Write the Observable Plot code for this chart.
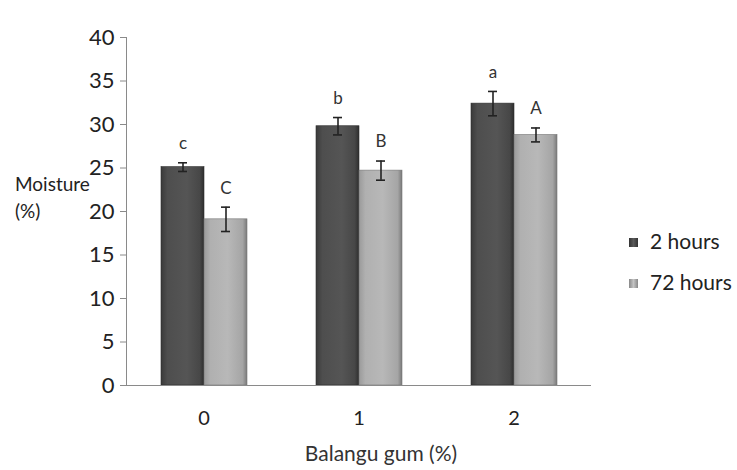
<!DOCTYPE html>
<html>
<head>
<meta charset="utf-8">
<script src="https://cdn.jsdelivr.net/npm/d3@7"></script>
<script src="https://cdn.jsdelivr.net/npm/@observablehq/plot@0.6"></script>
<style>
  html, body { margin: 0; padding: 0; background: #fff; }
  #wrap { position: relative; width: 737px; height: 470px; font-family: Lato, "Open Sans", sans-serif; color: #222; }
  #wrap svg { position: absolute; left: 0; top: 0; }
  .lbl { position: absolute; white-space: nowrap; line-height: 1.15; }
  .sw { display: inline-block; width: 9px; height: 9px; margin-right: 12px; vertical-align: 2px; }
</style>
</head>
<body>
<div id="wrap">
  <div class="lbl" style="left:15px; top:173px; font-size:19px; color:#222;">Moisture</div>
  <div class="lbl" style="left:15px; top:200px; font-size:19px; color:#222;">(%)</div>
  <div class="lbl" style="left:0; width:762px; text-align:center; top:441px; font-size:21px; color:#333;">Balangu gum (%)</div>
  <div class="lbl" style="left:629px; top:229px; font-size:21px; color:#222;"><span class="sw" style="background:linear-gradient(90deg,#333,#5a5a5a,#333);"></span>2 hours</div>
  <div class="lbl" style="left:629px; top:270px; font-size:21px; color:#222;"><span class="sw" style="background:linear-gradient(90deg,#888,#c4c4c4,#888);"></span>72 hours</div>
</div>
<script>
const categories = ["0", "1", "2"];
const series = ["2 hours", "72 hours"];
const values2h = [25.1, 29.8, 32.4];
const values72h = [19.1, 24.7, 28.8];
const err2h = [0.5, 1.0, 1.4];
const err72h = [1.4, 1.1, 0.8];
const letters2h = ["c", "b", "a"];
const letters72h = ["C", "B", "A"];
const yTicks = [0, 5, 10, 15, 20, 25, 30, 35, 40];

const data = [];
categories.forEach((c, i) => {
  data.push({cat: c, series: series[0], value: values2h[i], err: err2h[i], letter: letters2h[i]});
  data.push({cat: c, series: series[1], value: values72h[i], err: err72h[i], letter: letters72h[i]});
});

const svg = Plot.plot({
  width: 737,
  height: 470,
  marginTop: 37,
  marginBottom: 85,
  marginLeft: 125,
  marginRight: 145,
  style: {fontFamily: "Lato, 'Open Sans', sans-serif", background: "transparent"},
  fx: {domain: categories, padding: 0, label: null},
  x: {domain: series, paddingInner: 0, paddingOuter: 0.769, axis: null},
  y: {domain: [0, 40], label: null, axis: null},
  color: {domain: series, range: ["url(#gDark)", "url(#gLight)"]},
  marks: [
    Plot.frame({anchor: "left", stroke: "#8a8a8a", facetAnchor: "left"}),
    Plot.axisY({ticks: yTicks, tickSize: 6, tickPadding: 6, fontSize: 22, stroke: "#8a8a8a", color: "#222", label: null, facetAnchor: "left"}),
    Plot.axisFx({anchor: "bottom", tickSize: 0, tickPadding: 25, fontSize: 20, color: "#222", label: null}),
    Plot.barY(data, {fx: "cat", x: "series", y: "value", fill: "series", stroke: d => d.series === series[0] ? "#2e2e2e" : "#777", strokeWidth: 0.6}),
    Plot.ruleY([0], {stroke: "#8a8a8a", strokeWidth: 1.2}),
    Plot.ruleX(data, {fx: "cat", x: "series", y1: d => d.value - d.err, y2: d => d.value + d.err, stroke: "#222", strokeWidth: 1.6}),
    Plot.tickY(data, {fx: "cat", x: "series", y: d => d.value - d.err, stroke: "#222", strokeWidth: 1.6, insetLeft: 17, insetRight: 17}),
    Plot.tickY(data, {fx: "cat", x: "series", y: d => d.value + d.err, stroke: "#222", strokeWidth: 1.6, insetLeft: 17, insetRight: 17}),
    Plot.text(data, {fx: "cat", x: "series", y: d => d.value + d.err, text: "letter", dy: -19, fontSize: 17, fill: "#333"})
  ]
});

const defs = d3.select(svg).insert("defs", ":first-child");
function grad(id, stops) {
  const g = defs.append("linearGradient").attr("id", id).attr("x1", "0").attr("x2", "1").attr("y1", "0").attr("y2", "0");
  stops.forEach(([o, c]) => g.append("stop").attr("offset", o).attr("stop-color", c));
}
grad("gDark", [[0, "#3a3a3a"], [0.15, "#4e4e4e"], [0.6, "#555555"], [0.9, "#474747"], [1, "#2e2e2e"]]);
grad("gLight", [[0, "#9a9a9a"], [0.15, "#b0b0b0"], [0.55, "#b8b8b8"], [0.9, "#a5a5a5"], [1, "#7a7a7a"]]);

document.getElementById("wrap").prepend(svg);
</script>
</body>
</html>
